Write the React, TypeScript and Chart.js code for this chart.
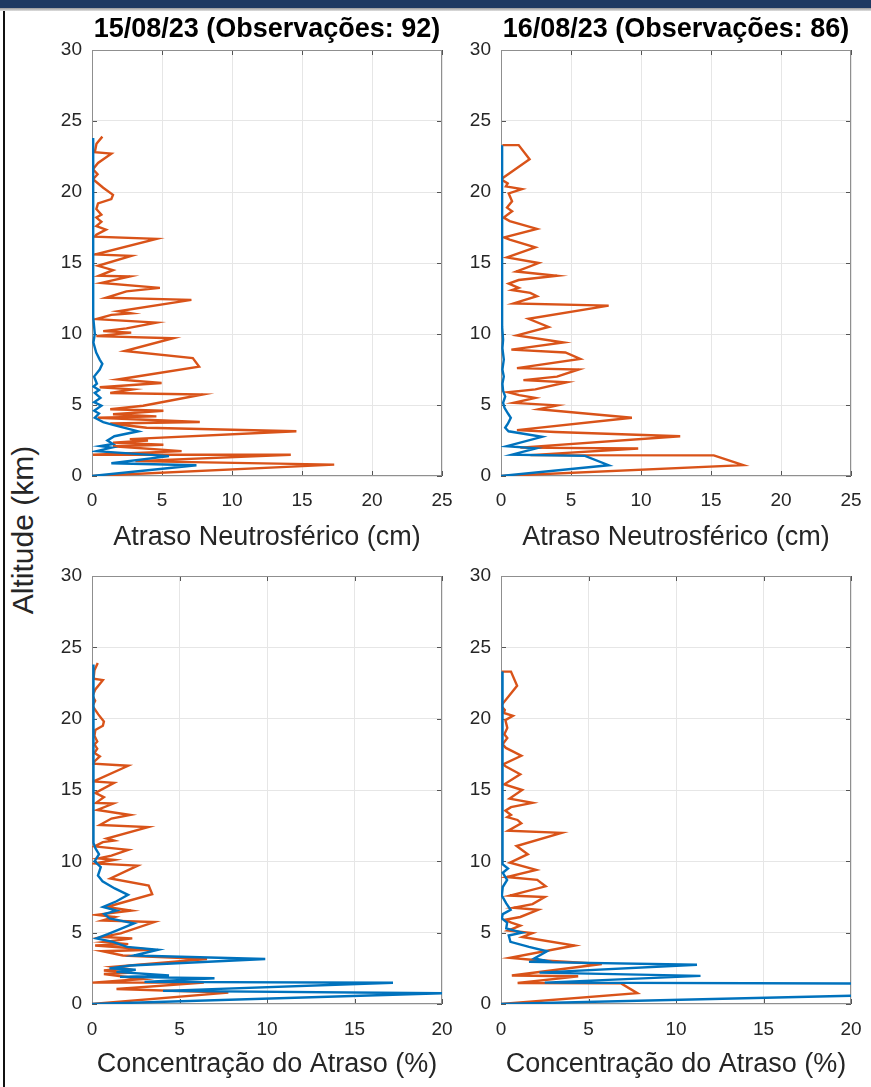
import React, { useEffect, useRef } from "react";
import { Chart, registerables } from "chart.js";

Chart.register(...registerables);

// ---- data: [value, altitude km] ----
const titles15 = "15/08/23 (Observações: 92)";
const titles16 = "16/08/23 (Observações: 86)";
const xLabelDelay = "Atraso Neutrosférico (cm)";
const xLabelConc = "Concentração do Atraso (%)";
const yLabel = "Altitude (km)";
const delayTicksMax = 25;
const concTicksMax = 20;
const altMax = 30;

const orange15Delay: number[][] = [
  [0.74, 23.9], [0.32, 23.4], [0.2, 22.8], [1.38, 22.7], [0.43, 22.05], [0.07, 21.6], [0.4, 21.25], [0.07, 20.9],
  [0.8, 20.3], [1.5, 19.8], [1.38, 19.5], [0.43, 19.2], [0.31, 18.8], [0.67, 18.4], [0.31, 18.2], [0.67, 17.9],
  [0.31, 17.6], [1.0, 17.35], [0.31, 17.0], [0.2, 16.85], [4.6, 16.7], [0.2, 15.6], [2.8, 15.5], [0.43, 14.8],
  [1.5, 14.5], [0.5, 14.1], [2.7, 14.05], [0.67, 13.6], [4.85, 13.25], [2.46, 13.0], [1.0, 12.55], [7.1, 12.4],
  [1.86, 11.6], [2.8, 11.45], [1.38, 11.35], [0.31, 11.05], [4.6, 10.8], [2.46, 10.4], [0.8, 10.2], [2.8, 10.1],
  [0.31, 9.85], [5.8, 9.7], [2.34, 8.8], [7.2, 8.3], [7.65, 7.7], [1.86, 6.8], [4.97, 6.55], [0.55, 6.25],
  [2.9, 6.1], [1.3, 5.85], [7.9, 5.74], [3.65, 4.95], [1.3, 4.7], [5.1, 4.6], [1.5, 4.35], [4.6, 4.2],
  [0.4, 4.1], [7.7, 3.8], [1.3, 3.7], [3.9, 3.4], [14.6, 3.15], [2.7, 2.6], [4.0, 2.5], [1.5, 2.35],
  [5.1, 2.2], [1.5, 2.1], [6.4, 1.75], [0.07, 1.5], [14.2, 1.5], [3.1, 1.05], [17.3, 0.8], [0, 0],
];
const blue15Delay: number[][] = [
  [0.08, 23.8], [0.08, 20], [0.08, 16], [0.1, 13], [0.08, 11.2], [0.2, 10.0], [0.1, 9.4], [0.3, 8.7],
  [0.55, 8.2], [0.74, 7.9], [0.55, 7.5], [0.15, 7.0], [0.35, 6.5], [0.1, 6.3], [0.5, 6.05], [0.2, 5.85],
  [0.6, 5.5], [0.15, 5.2], [0.67, 4.95], [0.15, 4.6], [0.5, 4.4], [0.2, 4.1], [0.8, 3.8], [1.5, 3.6],
  [3.3, 3.15], [1.6, 2.8], [1.1, 2.5], [1.5, 2.25], [0.6, 2.1], [1.4, 2.0], [0.3, 1.75], [5.5, 1.4],
  [1.38, 0.9], [7.46, 0.76], [0, 0],
];
const orange16Delay: number[][] = [
  [0.1, 23.3], [1.26, 23.3], [2.04, 22.3], [0.0, 20.9], [0.48, 20.6], [0.35, 20.4], [1.5, 20.2], [0.55, 19.9],
  [0.79, 19.35], [0.43, 18.9], [0.79, 18.65], [0.19, 18.2], [0.62, 17.95], [2.57, 17.4], [0.24, 16.8], [0.62, 16.65],
  [2.45, 16.1], [0.43, 15.4], [2.69, 15.0], [1.09, 14.4], [4.0, 14.1], [1.26, 13.8], [0.55, 13.55], [1.26, 13.25],
  [0.79, 13.1], [2.09, 12.9], [2.57, 12.66], [0.9, 12.15], [7.69, 12.0], [1.97, 11.07], [3.4, 10.5], [1.14, 9.9],
  [4.47, 9.4], [0.74, 8.9], [4.6, 8.7], [5.66, 8.25], [1.14, 7.6], [5.55, 7.5], [4.0, 7.0], [1.6, 6.75],
  [4.7, 6.6], [2.45, 6.1], [0.5, 5.9], [1.3, 5.7], [2.45, 5.5], [0.9, 5.15], [4.0, 4.97], [2.7, 4.7],
  [9.35, 4.1], [1.14, 3.23], [3.88, 3.1], [12.8, 2.8], [1.38, 2.0], [9.8, 1.94], [2.1, 1.47], [15.2, 1.45],
  [17.3, 0.76], [0, 0],
];
const blue16Delay: number[][] = [
  [0.08, 23.3], [0.08, 18], [0.08, 14], [0.08, 10.5], [0.15, 9.6], [0.1, 9.0], [0.2, 8.2], [0.1, 7.5],
  [0.2, 7.0], [0.1, 6.5], [0.15, 6.0], [0.3, 5.6], [0.15, 5.15], [0.25, 4.8], [0.5, 4.4], [0.7, 4.1],
  [0.5, 3.7], [0.3, 3.4], [0.54, 3.15], [2.93, 2.76], [0.43, 2.1], [2.5, 1.95], [0.78, 1.5], [6.0, 1.42],
  [7.69, 0.76], [0, 0],
];
const orange15Conc: number[][] = [
  [0.33, 23.9], [0.14, 23.4], [0.09, 22.8], [0.62, 22.7], [0.19, 22.05], [0.03, 21.6], [0.18, 21.25], [0.03, 20.9],
  [0.36, 20.3], [0.68, 19.8], [0.62, 19.5], [0.19, 19.2], [0.14, 18.8], [0.3, 18.4], [0.14, 18.2], [0.3, 17.9],
  [0.14, 17.6], [0.45, 17.35], [0.14, 17.0], [0.09, 16.85], [2.07, 16.7], [0.09, 15.6], [1.26, 15.5], [0.19, 14.8],
  [0.68, 14.5], [0.23, 14.1], [1.22, 14.05], [0.3, 13.6], [2.18, 13.25], [1.11, 13.0], [0.45, 12.55], [3.2, 12.4],
  [0.84, 11.6], [1.26, 11.45], [0.62, 11.35], [0.14, 11.05], [2.07, 10.8], [1.11, 10.4], [0.36, 10.2], [1.26, 10.1],
  [0.14, 9.85], [2.61, 9.7], [1.05, 8.8], [3.24, 8.3], [3.44, 7.7], [0.84, 6.8], [2.24, 6.55], [0.25, 6.25],
  [1.3, 6.1], [0.59, 5.85], [3.56, 5.74], [1.64, 4.95], [0.59, 4.7], [2.3, 4.6], [0.68, 4.35], [2.07, 4.2],
  [0.18, 4.1], [3.47, 3.8], [0.59, 3.7], [1.76, 3.4], [6.57, 3.15], [1.22, 2.6], [1.8, 2.5], [0.68, 2.35],
  [2.3, 2.2], [0.68, 2.1], [2.88, 1.75], [0.03, 1.5], [6.39, 1.5], [1.4, 1.05], [7.79, 0.8], [0, 0],
];
const blue15Conc: number[][] = [
  [0.08, 23.8], [0.08, 20], [0.08, 16], [0.08, 13], [0.1, 11.3], [0.2, 10.9], [0.4, 10.5], [0.15, 10.0],
  [0.5, 9.6], [0.34, 9.0], [0.6, 8.6], [1.3, 8.1], [2.06, 7.65], [1.4, 7.2], [0.63, 6.8], [1.4, 6.55],
  [0.7, 6.3], [1.0, 6.0], [2.4, 5.65], [1.5, 5.2], [0.9, 4.9], [0.25, 4.6], [1.2, 4.35], [2.0, 4.0],
  [3.77, 3.8], [2.4, 3.4], [9.9, 3.15], [2.2, 2.7], [1.0, 2.5], [2.5, 2.4], [1.4, 2.25], [4.4, 2.0],
  [1.6, 1.9], [7.0, 1.8], [3.0, 1.55], [17.2, 1.49], [4.06, 0.92], [20.0, 0.75], [0, 0],
];
const orange16Conc: number[][] = [
  [0.05, 23.3], [0.57, 23.3], [0.92, 22.3], [0.0, 20.9], [0.22, 20.6], [0.16, 20.4], [0.68, 20.2], [0.25, 19.9],
  [0.36, 19.35], [0.19, 18.9], [0.36, 18.65], [0.09, 18.2], [0.28, 17.95], [1.16, 17.4], [0.11, 16.8], [0.28, 16.65],
  [1.1, 16.1], [0.19, 15.4], [1.21, 15.0], [0.49, 14.4], [1.8, 14.1], [0.57, 13.8], [0.25, 13.55], [0.57, 13.25],
  [0.36, 13.1], [0.94, 12.9], [1.16, 12.66], [0.41, 12.15], [3.46, 12.0], [0.89, 11.07], [1.53, 10.5], [0.51, 9.9],
  [2.01, 9.4], [0.33, 8.9], [2.07, 8.7], [2.55, 8.25], [0.51, 7.6], [2.5, 7.5], [1.8, 7.0], [0.72, 6.75],
  [2.12, 6.6], [1.1, 6.1], [0.23, 5.9], [0.59, 5.7], [1.1, 5.5], [0.41, 5.15], [1.8, 4.97], [1.22, 4.7],
  [4.21, 4.1], [0.51, 3.23], [1.75, 3.1], [5.76, 2.8], [0.62, 2.0], [4.41, 1.94], [0.95, 1.47], [6.84, 1.45],
  [7.79, 0.76], [0, 0],
];
const blue16Conc: number[][] = [
  [0.08, 23.3], [0.08, 18], [0.08, 14], [0.08, 11], [0.1, 10.2], [0.1, 9.8], [0.4, 9.5], [0.1, 9.2],
  [0.35, 8.7], [0.1, 8.2], [0.05, 7.6], [0.3, 7.05], [0.55, 6.6], [0.1, 6.3], [0.05, 6.0], [0.35, 5.7],
  [0.3, 5.3], [1.2, 5.0], [0.44, 4.8], [0.54, 4.36], [1.6, 4.0], [2.63, 3.7], [1.9, 3.2], [2.5, 3.05],
  [1.6, 2.95], [11.2, 2.75], [2.2, 2.2], [11.4, 1.97], [2.5, 1.5], [26, 1.42], [24, 0.7], [0, 0],
];

const FONT = "'Liberation Sans', Arial, Helvetica, sans-serif";
const BLUE = "#0072BD";
const ORANGE = "#D95319";

const boxPlugin = {
  id: "matlabBox",
  beforeDatasetsDraw(chart: any) {
    const { ctx, chartArea } = chart;
    const { left, right, top, bottom } = chartArea;
    ctx.save();
    ctx.lineWidth = 1;
    ctx.strokeStyle = "#555555";
    const xs = chart.scales.x;
    const ys = chart.scales.y;
    ctx.beginPath();
    xs.ticks.forEach((t: any) => {
      const p = Math.round(xs.getPixelForValue(t.value)) + 0.5;
      ctx.moveTo(p, bottom);
      ctx.lineTo(p, bottom - 5);
      ctx.moveTo(p, top);
      ctx.lineTo(p, top + 5);
    });
    ys.ticks.forEach((t: any) => {
      const p = Math.round(ys.getPixelForValue(t.value)) + 0.5;
      ctx.moveTo(left, p);
      ctx.lineTo(left + 5, p);
      ctx.moveTo(right, p);
      ctx.lineTo(right - 5, p);
    });
    ctx.stroke();
    ctx.strokeStyle = "#8f8f8f";
    ctx.strokeRect(Math.round(left) + 0.5, Math.round(top) + 0.5, Math.round(right - left) - 1, Math.round(bottom - top) - 1);
    ctx.restore();
  },
};

type PanelProps = {
  left: number;
  top: number;
  width: number;
  height: number;
  title?: string;
  xMax: number;
  xLabel: string;
  blue: number[][];
  orange: number[][];
  yAxisWidth: number;
  xAxisHeight: number;
  padTop: number;
  padRight: number;
  xTickPad: number;
};

function Panel(p: PanelProps) {
  const ref = useRef<HTMLCanvasElement | null>(null);
  useEffect(() => {
    if (!ref.current) return;
    const toPts = (arr: number[][]) => arr.map(([x, y]) => ({ x, y }));
    const chart = new Chart(ref.current, {
      type: "scatter",
      data: {
        datasets: [
          {
            data: toPts(p.blue),
            showLine: true,
            borderColor: BLUE,
            backgroundColor: BLUE,
            borderWidth: 2.4,
            pointRadius: 0,
            tension: 0,
          },
          {
            data: toPts(p.orange),
            showLine: true,
            borderColor: ORANGE,
            backgroundColor: ORANGE,
            borderWidth: 2.4,
            pointRadius: 0,
            tension: 0,
          },
        ],
      },
      options: {
        animation: false,
        responsive: false,
        events: [],
        layout: { padding: { top: p.padTop, right: p.padRight, left: 0, bottom: 0 } },
        plugins: {
          legend: { display: false },
          tooltip: { enabled: false },
          title: p.title
            ? {
                display: true,
                text: p.title,
                fullSize: false,
                color: "#000000",
                font: { family: FONT, size: 27, weight: "bold" },
                padding: { top: 3.8, bottom: 3.8 },
              }
            : { display: false },
        },
        scales: {
          x: {
            type: "linear",
            min: 0,
            max: p.xMax,
            ticks: { stepSize: 5, color: "#262626", font: { family: FONT, size: 19 }, padding: p.xTickPad, maxRotation: 0 },
            grid: { color: "#e6e6e6", drawTicks: false },
            border: { display: false },
            title: {
              display: true,
              text: p.xLabel,
              color: "#262626",
              font: { family: FONT, size: 27 },
              padding: { top: 0, bottom: 5.8 },
            },
            afterFit: (s: any) => {
              s.height = p.xAxisHeight;
              s.paddingLeft = 0;
              s.paddingRight = 0;
            },
          },
          y: {
            type: "linear",
            min: 0,
            max: altMax,
            ticks: { stepSize: 5, color: "#262626", font: { family: FONT, size: 19 }, padding: 10 },
            grid: { color: "#e6e6e6", drawTicks: false },
            border: { display: false },
            afterFit: (s: any) => {
              s.width = p.yAxisWidth;
              s.paddingTop = 0;
              s.paddingBottom = 0;
            },
          },
        },
      } as any,
      plugins: [boxPlugin],
    });
    return () => chart.destroy();
  }, []);
  return (
    <canvas
      ref={ref}
      width={p.width}
      height={p.height}
      style={{ position: "absolute", left: p.left, top: p.top, width: p.width, height: p.height }}
    />
  );
}

export default function App() {
  return (
    <div
      style={{
        position: "absolute",
        left: 0,
        top: 0,
        width: 871,
        height: 1087,
        overflow: "hidden",
        background: "#ffffff",
      }}
    >
      <div style={{ position: "absolute", left: 0, top: 0, width: 871, height: 8, background: "#1f3a62" }} />
      <div
        style={{
          position: "absolute",
          left: 0,
          top: 8,
          width: 871,
          height: 3,
          background: "linear-gradient(#9a9a9a, #e0e0e0)",
        }}
      />
      <div style={{ position: "absolute", left: 3, top: 11, width: 2, height: 1076, background: "#111111" }} />
      <Panel
        left={40}
        top={10}
        width={420}
        height={550}
        title={titles15}
        xMax={delayTicksMax}
        xLabel={xLabelDelay}
        blue={blue15Delay}
        orange={orange15Delay}
        yAxisWidth={52}
        xAxisHeight={84}
        padTop={0}
        padRight={18}
        xTickPad={13}
      />
      <Panel
        left={455}
        top={10}
        width={415}
        height={550}
        title={titles16}
        xMax={delayTicksMax}
        xLabel={xLabelDelay}
        blue={blue16Delay}
        orange={orange16Delay}
        yAxisWidth={46}
        xAxisHeight={84}
        padTop={0}
        padRight={19}
        xTickPad={13}
      />
      <Panel
        left={40}
        top={560}
        width={420}
        height={527}
        xMax={concTicksMax}
        xLabel={xLabelConc}
        blue={blue15Conc}
        orange={orange15Conc}
        yAxisWidth={52}
        xAxisHeight={83}
        padTop={16}
        padRight={18}
        xTickPad={14}
      />
      <Panel
        left={455}
        top={560}
        width={415}
        height={527}
        xMax={concTicksMax}
        xLabel={xLabelConc}
        blue={blue16Conc}
        orange={orange16Conc}
        yAxisWidth={46}
        xAxisHeight={83}
        padTop={16}
        padRight={19}
        xTickPad={14}
      />
      <div
        style={{
          position: "absolute",
          left: 23,
          top: 530,
          transform: "translate(-50%, -50%) rotate(-90deg)",
          fontFamily: FONT,
          fontSize: 30,
          color: "#262626",
          whiteSpace: "nowrap",
          lineHeight: 1,
        }}
      >
        {yLabel}
      </div>
    </div>
  );
}
